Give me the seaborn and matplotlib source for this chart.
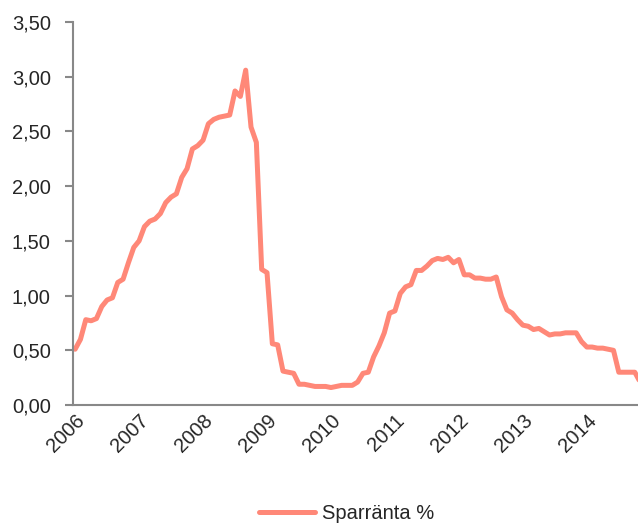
import numpy as np
import pandas as pd
import matplotlib
matplotlib.use("Agg")
import matplotlib.pyplot as plt
import matplotlib.transforms as mtransforms
import seaborn as sns

# Monthly savings rate, Jan 2006 - Nov 2014
months = pd.date_range("2006-01-01", periods=107, freq="MS")
rate = [
    0.51, 0.60, 0.78, 0.77, 0.79, 0.90, 0.96, 0.98, 1.12, 1.15, 1.30, 1.44,
    1.50, 1.63, 1.68, 1.70, 1.75, 1.85, 1.90, 1.93, 2.08, 2.16, 2.34, 2.37,
    2.42, 2.57, 2.61, 2.63, 2.64, 2.65, 2.87, 2.82, 3.06, 2.54, 2.40, 1.24,
    1.21, 0.56, 0.55, 0.31, 0.30, 0.29, 0.19, 0.19, 0.18, 0.17, 0.17, 0.17,
    0.16, 0.17, 0.18, 0.18, 0.18, 0.21, 0.29, 0.30, 0.44, 0.54, 0.66, 0.84,
    0.86, 1.02, 1.08, 1.10, 1.23, 1.23, 1.27, 1.32, 1.34, 1.33, 1.35, 1.30,
    1.33, 1.19, 1.19, 1.16, 1.16, 1.15, 1.15, 1.17, 0.99, 0.87, 0.84, 0.78,
    0.73, 0.72, 0.69, 0.70, 0.67, 0.64, 0.65, 0.65, 0.66, 0.66, 0.66, 0.58,
    0.53, 0.53, 0.52, 0.52, 0.51, 0.50, 0.30, 0.30, 0.30, 0.30, 0.21,
]
years = [str(y) for y in range(2006, 2015)]
y_ticks = [0.0, 0.5, 1.0, 1.5, 2.0, 2.5, 3.0, 3.5]
series_name = "Sparränta %"

df = pd.DataFrame({"idx": np.arange(len(rate)), "rate": rate, "serie": series_name})

sns.set_style("white")
plt.rcParams["font.family"] = ["Liberation Sans", "DejaVu Sans"]

fig = plt.figure(figsize=(6.38, 5.24), dpi=100)
ax = fig.add_axes([0.1144, 0.227, 0.8856, 0.731])

line_color = "#FF8878"
sns.lineplot(data=df, x="idx", y="rate", hue="serie", palette=[line_color],
             linewidth=3.6, ax=ax, legend=True)

fs = 14.5
ax.set_xlim(-0.4, 105.6)
ax.set_ylim(0, 3.5)
ax.set_yticks(y_ticks)
ax.set_yticklabels([f"{v:.2f}".replace(".", ",") for v in y_ticks], fontsize=fs)
ax.set_xticks(np.arange(0, 12 * len(years), 12))
ax.set_xticklabels(years, rotation=45, ha="right", rotation_mode="anchor", fontsize=fs)
ax.set_xlabel("")
ax.set_ylabel("")

# nudge year labels a little to the left, like the original
shift = mtransforms.ScaledTranslation(-5 / 100, 0, fig.dpi_scale_trans)
for lbl in ax.get_xticklabels():
    lbl.set_transform(lbl.get_transform() + shift)

spine_color = "#888888"
for side in ["top", "right"]:
    ax.spines[side].set_visible(False)
for side in ["left", "bottom"]:
    ax.spines[side].set_color(spine_color)
    ax.spines[side].set_linewidth(1.5)
ax.tick_params(axis="y", length=6, width=1.5, color=spine_color, pad=10, left=True)
ax.tick_params(axis="x", length=0, pad=4)

handles, labels = ax.get_legend_handles_labels()
ax.legend(handles, labels, loc="center", bbox_to_anchor=(0.543, 0.02),
          bbox_transform=fig.transFigure, frameon=False, fontsize=fs,
          handlelength=2.8, handletextpad=0.3)

fig.savefig("out.png", dpi=100)
